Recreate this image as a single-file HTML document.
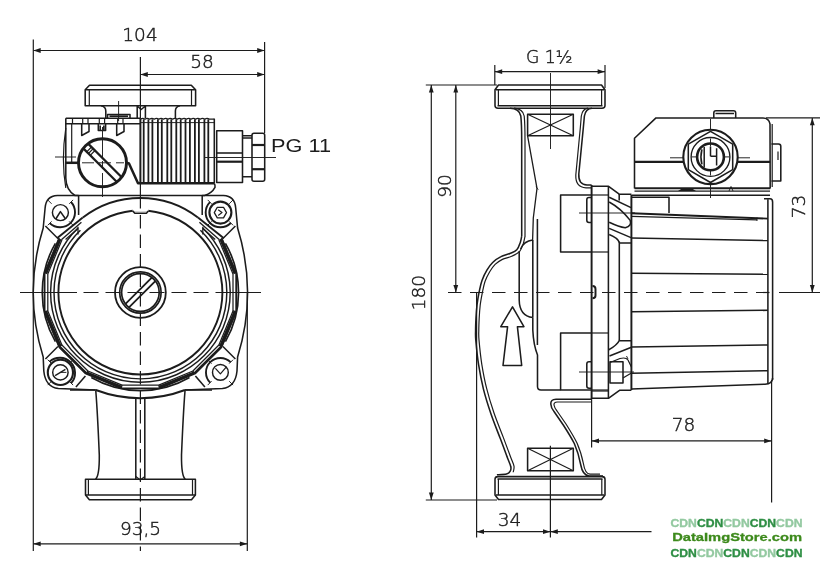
<!DOCTYPE html>
<html lang="en"><head><meta charset="utf-8"><title>Pump dimensions</title>
<style>
html,body{margin:0;padding:0;background:#fff;}
svg{display:block;will-change:transform;}
svg *{vector-effect:none;}
.draw line,.draw path,.draw circle,.draw rect,.draw polygon{fill:none;stroke:#1c1c1c;stroke-linecap:butt;stroke-linejoin:round;}
.dim{font-family:"DejaVu Sans Light","DejaVu Sans","Liberation Sans",sans-serif;font-weight:200;fill:#1c1c1c;stroke:#1c1c1c;stroke-width:0.45;}
.lib{font-family:"Liberation Sans",Arial,sans-serif;fill:#1c1c1c;stroke:none;}
.wm{font-family:"Liberation Sans",Arial,sans-serif;font-weight:700;stroke:none;}
</style></head><body>
<svg class="draw" width="840" height="571" viewBox="0 0 840 571">
<rect x="0" y="0" width="840" height="571" style="fill:#fff;stroke:none"/>
<g id="left">
<line x1="33.3" y1="39.5" x2="33.3" y2="551.0" stroke-width="1.2" />
<line x1="264.6" y1="42.0" x2="264.6" y2="133.0" stroke-width="1.2" />
<line x1="33.3" y1="50.5" x2="264.6" y2="50.5" stroke-width="1.2" />
<polygon points="33.3,50.5 40.7,48.1 40.7,52.9" style="fill:#1c1c1c;stroke:none"/>
<polygon points="264.6,50.5 257.2,52.9 257.2,48.1" style="fill:#1c1c1c;stroke:none"/>
<line x1="140.4" y1="74.5" x2="264.6" y2="74.5" stroke-width="1.2" />
<polygon points="140.4,74.5 147.8,72.1 147.8,76.9" style="fill:#1c1c1c;stroke:none"/>
<polygon points="264.6,74.5 257.2,76.9 257.2,72.1" style="fill:#1c1c1c;stroke:none"/>
<text x="140.0" y="40.8" font-size="18.5" text-anchor="middle" class="dim" >104</text>
<text x="202.0" y="68.0" font-size="18.5" text-anchor="middle" class="dim" >58</text>
<line x1="140.4" y1="57.0" x2="140.4" y2="118.0" stroke-width="1.2" />
<line x1="140.4" y1="195.5" x2="140.4" y2="551.0" stroke-width="1.2" stroke-dasharray="13.5 6"/>
<line x1="20.0" y1="292.5" x2="77.0" y2="292.5" stroke-width="1.2" />
<line x1="83.5" y1="292.5" x2="223.0" y2="292.5" stroke-width="1.2" stroke-dasharray="15 7"/>
<line x1="223.0" y1="292.5" x2="261.0" y2="292.5" stroke-width="1.2" />
<line x1="247.3" y1="292.5" x2="247.3" y2="551.0" stroke-width="1.2" />
<line x1="33.3" y1="543.8" x2="247.3" y2="543.8" stroke-width="1.2" />
<polygon points="33.3,543.8 40.7,541.4 40.7,546.2" style="fill:#1c1c1c;stroke:none"/>
<polygon points="247.3,543.8 239.9,546.2 239.9,541.4" style="fill:#1c1c1c;stroke:none"/>
<text x="140.5" y="534.7" font-size="18.5" text-anchor="middle" class="dim" >93,5</text>
<path d="M89.5,85.3 H191.3 L195.6,89.8 V105.8 H85.2 V89.8 Z" stroke-width="1.55" />
<line x1="85.2" y1="89.8" x2="195.6" y2="89.8" stroke-width="1.55" />
<line x1="89.3" y1="89.8" x2="89.3" y2="105.8" stroke-width="1.2" />
<line x1="191.5" y1="89.8" x2="191.5" y2="105.8" stroke-width="1.2" />
<path d="M101,105.8 Q105.8,106.5 105.8,111 V118" stroke-width="1.55" />
<path d="M180,105.8 Q175.4,106.5 175.4,111 V118" stroke-width="1.55" />
<path d="M137.2,118 V106 L141.2,109.5 L145.4,106 V118" stroke-width="1.55" />
<path d="M107.5,118 V114.5 H130 V118 M109.5,116.3 H128" stroke-width="1.55" />
<line x1="118.6" y1="101.0" x2="118.6" y2="121.0" stroke-width="0.95" />
<path d="M65.8,118.2 H140.4 M65.8,118.2 V178 Q66,190 75,195.5 H204.5 Q212,193 215,187.3 Q215.3,185 214.3,183.3" stroke-width="1.55" />
<line x1="65.8" y1="123.8" x2="140.4" y2="123.8" stroke-width="1.55" />
<path d="M65.8,128 Q61,160 65.8,188" stroke-width="1.2" />
<line x1="71.7" y1="123.8" x2="71.7" y2="162.0" stroke-width="1.2" />
<line x1="55.0" y1="157.0" x2="76.0" y2="157.0" stroke-width="0.95" />
<path d="M81.7,123.8 V135.5 L89.0,131.5 V123.8" stroke-width="1.55" />
<line x1="82.7" y1="118.2" x2="82.7" y2="123.8" stroke-width="1.2" />
<line x1="88.0" y1="118.2" x2="88.0" y2="123.8" stroke-width="1.2" />
<path d="M116.7,123.8 V135.5 L124.0,131.5 V123.8" stroke-width="1.55" />
<line x1="117.7" y1="118.2" x2="117.7" y2="123.8" stroke-width="1.2" />
<line x1="123.0" y1="118.2" x2="123.0" y2="123.8" stroke-width="1.2" />
<path d="M98.3,123.8 V130.5 H105.6 V123.8 M100.2,125.5 V130.5 M103.8,125.5 V130.5" stroke-width="1.55" />
<line x1="99.3" y1="118.2" x2="99.3" y2="123.8" stroke-width="1.2" />
<line x1="104.6" y1="118.2" x2="104.6" y2="123.8" stroke-width="1.2" />
<line x1="72.5" y1="118.2" x2="72.5" y2="123.8" stroke-width="1.2" />
<circle cx="102.5" cy="162.8" r="24.0" stroke-width="2.9" />
<line x1="102.5" y1="127.0" x2="102.5" y2="197.0" stroke-width="0.95" stroke-dasharray="30 4 8 4"/>
<line x1="82.0" y1="162.8" x2="124.0" y2="162.8" stroke-width="0.95" stroke-dasharray="12 5"/>
<line x1="88.1" y1="143.6" x2="121.7" y2="177.2" stroke-width="2.2" />
<line x1="83.3" y1="148.4" x2="116.9" y2="182.0" stroke-width="2.2" />
<line x1="91.5" y1="147.0" x2="86.7" y2="151.8" stroke-width="1.2" />
<line x1="93.2" y1="148.7" x2="88.4" y2="153.5" stroke-width="1.2" />
<line x1="95.0" y1="150.5" x2="90.2" y2="155.3" stroke-width="1.2" />
<line x1="65.8" y1="162.8" x2="78.5" y2="162.8" stroke-width="2.5" />
<path d="M126.5,162.8 L129,163.5 L138,183.3 H214.3" stroke-width="2.5" />
<line x1="143.7" y1="119.3" x2="143.7" y2="182.8" stroke-width="1.8" />
<line x1="148.4" y1="119.3" x2="148.4" y2="182.8" stroke-width="1.8" />
<line x1="152.4" y1="119.3" x2="152.4" y2="182.8" stroke-width="1.8" />
<line x1="157.9" y1="119.3" x2="157.9" y2="182.8" stroke-width="1.8" />
<line x1="161.8" y1="119.3" x2="161.8" y2="182.8" stroke-width="1.8" />
<line x1="167.3" y1="119.3" x2="167.3" y2="182.8" stroke-width="1.8" />
<line x1="171.3" y1="119.3" x2="171.3" y2="182.8" stroke-width="1.8" />
<line x1="176.3" y1="119.3" x2="176.3" y2="182.8" stroke-width="1.8" />
<line x1="180.7" y1="119.3" x2="180.7" y2="182.8" stroke-width="1.8" />
<line x1="185.5" y1="119.3" x2="185.5" y2="182.8" stroke-width="1.8" />
<line x1="189.9" y1="119.3" x2="189.9" y2="182.8" stroke-width="1.8" />
<line x1="194.9" y1="119.3" x2="194.9" y2="182.8" stroke-width="1.8" />
<line x1="198.9" y1="119.3" x2="198.9" y2="182.8" stroke-width="1.8" />
<line x1="204.4" y1="119.3" x2="204.4" y2="182.8" stroke-width="1.8" />
<line x1="208.3" y1="119.3" x2="208.3" y2="182.8" stroke-width="1.8" />
<line x1="140.4" y1="118.2" x2="140.4" y2="183.0" stroke-width="2.0" />
<line x1="214.3" y1="118.6" x2="214.3" y2="183.3" stroke-width="1.55" />
<path d="M140.4,119.2 q2.3,-1.8 4.6,0 q2.3,-1.8 4.6,0 q2.3,-1.8 4.6,0 q2.3,-1.8 4.6,0 q2.3,-1.8 4.6,0 q2.3,-1.8 4.6,0 q2.3,-1.8 4.6,0 q2.3,-1.8 4.6,0 q2.3,-1.8 4.6,0 q2.3,-1.8 4.6,0 q2.3,-1.8 4.6,0 q2.3,-1.8 4.6,0 q2.3,-1.8 4.6,0 q2.3,-1.8 4.6,0 q2.3,-1.8 4.6,0 L214.3,119.2" stroke-width="1.2" />
<line x1="140.4" y1="122.6" x2="214.3" y2="122.6" stroke-width="0.95" />
<line x1="140.4" y1="183.3" x2="140.4" y2="195.5" stroke-width="1.2" />
<path d="M216.7,130.8 H242.5 V182.5 H216.7 Z" stroke-width="1.55" />
<line x1="216.7" y1="153.0" x2="242.5" y2="153.0" stroke-width="1.55" />
<line x1="216.7" y1="161.7" x2="242.5" y2="161.7" stroke-width="2.2" />
<line x1="205.0" y1="157.5" x2="276.0" y2="157.5" stroke-width="0.95" />
<path d="M242.5,135.8 H252 M242.5,138 H252 M242.5,176.7 H252" stroke-width="1.55" />
<path d="M254,133.3 H262.7 Q264.7,133.3 264.7,135.3 V179.3 Q264.7,181.3 262.7,181.3 H254 Q252,181.3 252,179.3 V135.3 Q252,133.3 254,133.3 Z" stroke-width="1.55" />
<line x1="252.0" y1="145.0" x2="264.7" y2="145.0" stroke-width="2.2" />
<line x1="252.0" y1="169.2" x2="264.7" y2="169.2" stroke-width="2.2" />
<text x="271.0" y="152.0" font-size="18.4" text-anchor="start" class="lib" textLength="60" lengthAdjust="spacingAndGlyphs">PG 11</text>
<path d="M78.6,195.5 H57.4 Q45.9,196 45.1,208 L43.2,228 A218,218 0 0 0 43.2,357 L43.8,371 Q45.4,387 58.4,388.6 L95.8,390" stroke-width="1.55" />
<path d="M202.2,195.5 H223.4 Q234.9,196 235.7,208 L237.6,228 A218,218 0 0 1 237.6,357 L237.0,371 Q235.4,387 222.4,388.6 L185.0,390" stroke-width="1.55" />
<line x1="70.0" y1="390.0" x2="95.8" y2="390.0" stroke-width="1.55" />
<line x1="185.0" y1="390.0" x2="212.0" y2="390.0" stroke-width="1.55" />
<path d="M95.8,390 A126,126 0 0 0 185,390" stroke-width="1.95" />
<circle cx="140.4" cy="292.5" r="82.0" stroke-width="1.9" />
<path d="M132.6,208.5 h15.8 v3.2 h-15.8 z" style="fill:#fff;stroke:none"/>
<path d="M132.6,210.9 L134.8,213.2 H146.4 L148.4,210.9" stroke-width="1.55" />
<path d="M200.4,230.3 A86.4,86.4 0 1 1 80.4,230.3" stroke-width="1.45" />
<path d="M202.8,227.9 A89.8,89.8 0 1 1 78.0,227.9" stroke-width="1.45" />
<line x1="78.6" y1="195.5" x2="78.6" y2="215.0" stroke-width="1.55" />
<line x1="202.2" y1="195.5" x2="202.2" y2="215.0" stroke-width="1.55" />
<path d="M82.9,217.6 A94.4,94.4 0 0 1 197.9,217.6" stroke-width="1.95" />
<line x1="218.9" y1="240.0" x2="233.0" y2="274.1" stroke-width="1.25" />
<line x1="233.0" y1="274.1" x2="233.0" y2="310.9" stroke-width="1.25" />
<line x1="233.0" y1="310.9" x2="218.9" y2="345.0" stroke-width="1.25" />
<line x1="218.9" y1="345.0" x2="192.9" y2="371.0" stroke-width="1.25" />
<line x1="192.9" y1="371.0" x2="158.8" y2="385.1" stroke-width="1.25" />
<line x1="158.8" y1="385.1" x2="122.0" y2="385.1" stroke-width="1.25" />
<line x1="122.0" y1="385.1" x2="87.9" y2="371.0" stroke-width="1.25" />
<line x1="87.9" y1="371.0" x2="61.9" y2="345.0" stroke-width="1.25" />
<line x1="61.9" y1="345.0" x2="47.8" y2="310.9" stroke-width="1.25" />
<line x1="47.8" y1="310.9" x2="47.8" y2="274.1" stroke-width="1.25" />
<line x1="47.8" y1="274.1" x2="61.9" y2="240.0" stroke-width="1.25" />
<line x1="221.6" y1="238.2" x2="236.2" y2="273.4" stroke-width="1.8" />
<line x1="236.2" y1="273.4" x2="236.2" y2="311.6" stroke-width="1.8" />
<line x1="236.2" y1="311.6" x2="221.6" y2="346.8" stroke-width="1.8" />
<line x1="221.6" y1="346.8" x2="194.7" y2="373.7" stroke-width="1.8" />
<line x1="194.7" y1="373.7" x2="159.5" y2="388.3" stroke-width="1.8" />
<line x1="159.5" y1="388.3" x2="121.3" y2="388.3" stroke-width="1.8" />
<line x1="121.3" y1="388.3" x2="86.1" y2="373.7" stroke-width="1.8" />
<line x1="86.1" y1="373.7" x2="59.2" y2="346.8" stroke-width="1.8" />
<line x1="59.2" y1="346.8" x2="44.6" y2="311.6" stroke-width="1.8" />
<line x1="44.6" y1="311.6" x2="44.6" y2="273.4" stroke-width="1.8" />
<line x1="44.6" y1="273.4" x2="59.2" y2="238.2" stroke-width="1.8" />
<line x1="220.8" y1="238.8" x2="235.2" y2="273.6" stroke-width="3.3" />
<line x1="235.2" y1="311.4" x2="220.8" y2="346.2" stroke-width="3.3" />
<line x1="60.0" y1="346.2" x2="45.6" y2="311.4" stroke-width="3.3" />
<line x1="45.6" y1="273.6" x2="60.0" y2="238.8" stroke-width="3.3" />
<line x1="194.0" y1="372.7" x2="159.2" y2="387.1" stroke-width="2.7" />
<line x1="121.6" y1="387.1" x2="86.8" y2="372.7" stroke-width="2.7" />
<line x1="221.4" y1="346.6" x2="194.5" y2="373.5" stroke-width="2.5" />
<line x1="86.3" y1="373.5" x2="59.4" y2="346.6" stroke-width="2.5" />
<line x1="232.8" y1="310.9" x2="236.0" y2="311.5" stroke-width="1.2" />
<line x1="218.7" y1="344.8" x2="221.4" y2="346.7" stroke-width="1.2" />
<line x1="192.7" y1="370.8" x2="194.6" y2="373.5" stroke-width="1.2" />
<line x1="158.8" y1="384.9" x2="159.4" y2="388.1" stroke-width="1.2" />
<line x1="122.0" y1="384.9" x2="121.4" y2="388.1" stroke-width="1.2" />
<line x1="88.1" y1="370.8" x2="86.2" y2="373.5" stroke-width="1.2" />
<line x1="62.1" y1="344.8" x2="59.4" y2="346.7" stroke-width="1.2" />
<line x1="48.0" y1="310.9" x2="44.8" y2="311.5" stroke-width="1.2" />
<line x1="57.0" y1="238.3" x2="82.8" y2="217.5" stroke-width="1.9" />
<line x1="61.4" y1="239.8" x2="81.4" y2="222.2" stroke-width="1.3" />
<line x1="65.6" y1="239.4" x2="78.0" y2="228.4" stroke-width="1.3" />
<line x1="78.0" y1="226.7" x2="78.0" y2="234.5" stroke-width="1.3" />
<line x1="223.8" y1="238.3" x2="198.0" y2="217.5" stroke-width="1.9" />
<line x1="219.4" y1="239.8" x2="199.4" y2="222.2" stroke-width="1.3" />
<line x1="215.2" y1="239.4" x2="202.8" y2="228.4" stroke-width="1.3" />
<line x1="202.8" y1="226.7" x2="202.8" y2="234.5" stroke-width="1.3" />
<path d="M225.4,243.4 A98.2,98.2 0 0 1 225.4,341.6" stroke-width="1.7" />
<path d="M189.5,377.5 A98.2,98.2 0 0 1 91.3,377.5" stroke-width="1.7" />
<path d="M55.4,341.6 A98.2,98.2 0 0 1 55.4,243.4" stroke-width="1.7" />
<line x1="57.9" y1="238.5" x2="45.4" y2="226.0" stroke-width="1.55" />
<path d="M71.0,202.0 A15,15 0 0 1 49.8,223.2" stroke-width="1.9" />
<circle cx="60.4" cy="212.6" r="8.0" stroke-width="1.45" />
<line x1="69.2" y1="221.4" x2="73.1" y2="225.3" stroke-width="0.95" />
<line x1="51.6" y1="221.4" x2="47.7" y2="225.3" stroke-width="0.95" />
<line x1="51.6" y1="203.8" x2="47.7" y2="199.9" stroke-width="0.95" />
<line x1="69.2" y1="203.8" x2="73.1" y2="199.9" stroke-width="0.95" />
<path d="M55.8,219.0 L60.4,211.6 L65.6,219.0" stroke-width="1.55" />
<line x1="222.9" y1="238.5" x2="235.4" y2="226.0" stroke-width="1.55" />
<path d="M210.0,202.2 A14.7,14.7 0 0 0 230.8,223.0" stroke-width="1.9" />
<circle cx="220.4" cy="212.6" r="11.0" stroke-width="2.1" />
<line x1="229.2" y1="221.4" x2="233.1" y2="225.3" stroke-width="0.95" />
<line x1="211.6" y1="221.4" x2="207.7" y2="225.3" stroke-width="0.95" />
<line x1="211.6" y1="203.8" x2="207.7" y2="199.9" stroke-width="0.95" />
<line x1="229.2" y1="203.8" x2="233.1" y2="199.9" stroke-width="0.95" />
<polygon points="226.5,212.6 223.5,217.9 217.3,217.9 214.3,212.6 217.3,207.3 223.5,207.3" stroke-width="1.3"/>
<path d="M218.2,209.8 L222.0,212.6 L218.2,215.4" stroke-width="1.2" />
<line x1="57.9" y1="346.5" x2="45.4" y2="359.0" stroke-width="1.55" />
<line x1="85.4" y1="376.0" x2="75.9" y2="387.1" stroke-width="1.55" />
<path d="M71.2,383.2 A15.3,15.3 0 0 0 49.6,361.6" stroke-width="1.9" />
<circle cx="60.4" cy="372.4" r="12.6" stroke-width="2.1" />
<circle cx="60.4" cy="372.4" r="7.7" stroke-width="1.45" />
<line x1="69.2" y1="381.2" x2="73.1" y2="385.1" stroke-width="0.95" />
<line x1="51.6" y1="381.2" x2="47.7" y2="385.1" stroke-width="0.95" />
<line x1="51.6" y1="363.6" x2="47.7" y2="359.7" stroke-width="0.95" />
<line x1="69.2" y1="363.6" x2="73.1" y2="359.7" stroke-width="0.95" />
<line x1="55.1" y1="375.6" x2="65.4" y2="369.4" stroke-width="1.3" />
<line x1="60.4" y1="372.4" x2="66.4" y2="372.4" stroke-width="0.95" />
<line x1="222.9" y1="346.5" x2="235.4" y2="359.0" stroke-width="1.55" />
<line x1="195.4" y1="376.0" x2="204.9" y2="387.1" stroke-width="1.55" />
<path d="M210.2,382.6 A14.4,14.4 0 0 1 230.6,362.2" stroke-width="1.9" />
<circle cx="220.4" cy="372.4" r="7.9" stroke-width="1.45" />
<line x1="229.2" y1="381.2" x2="233.1" y2="385.1" stroke-width="0.95" />
<line x1="211.6" y1="381.2" x2="207.7" y2="385.1" stroke-width="0.95" />
<line x1="211.6" y1="363.6" x2="207.7" y2="359.7" stroke-width="0.95" />
<line x1="229.2" y1="363.6" x2="233.1" y2="359.7" stroke-width="0.95" />
<path d="M215.4,368.4 L220.4,373.9 L226.4,366.9" stroke-width="1.2" />
<circle cx="140.4" cy="292.5" r="25.4" stroke-width="1.8" />
<circle cx="140.4" cy="292.5" r="20.7" stroke-width="1.7" />
<circle cx="140.4" cy="292.5" r="18.8" stroke-width="1.7" />
<line x1="125.5" y1="303.9" x2="151.8" y2="277.6" stroke-width="1.8" />
<line x1="129.0" y1="307.4" x2="155.3" y2="281.1" stroke-width="1.8" />
<path d="M95.8,391 Q97.5,412 99.3,455 Q99.5,476 95.5,479.2" stroke-width="1.55" />
<path d="M185,391 Q183.3,412 181.5,455 Q181.3,476 185.3,479.2" stroke-width="1.55" />
<line x1="135.8" y1="399.0" x2="135.8" y2="479.0" stroke-width="1.55" />
<line x1="144.8" y1="399.0" x2="144.8" y2="479.0" stroke-width="1.55" />
<path d="M135.8,476.5 L140.3,480 L144.8,476.5" stroke-width="1.2" />
<path d="M85.5,479.2 H195.4 V495 L191.5,499.7 H89.4 L85.5,495 Z" stroke-width="1.55" />
<line x1="85.5" y1="495.0" x2="195.4" y2="495.0" stroke-width="1.55" />
<line x1="88.4" y1="480.0" x2="88.4" y2="495.0" stroke-width="1.2" />
<line x1="192.5" y1="480.0" x2="192.5" y2="495.0" stroke-width="1.2" />
</g>
<g id="right">
<line x1="425.8" y1="85.0" x2="497.0" y2="85.0" stroke-width="1.2" />
<line x1="425.8" y1="500.0" x2="497.0" y2="500.0" stroke-width="1.2" />
<line x1="431.3" y1="85.0" x2="431.3" y2="500.0" stroke-width="1.2" />
<polygon points="431.3,85.0 433.7,92.4 428.9,92.4" style="fill:#1c1c1c;stroke:none"/>
<polygon points="431.3,500.0 428.9,492.6 433.7,492.6" style="fill:#1c1c1c;stroke:none"/>
<line x1="455.8" y1="85.0" x2="455.8" y2="292.5" stroke-width="1.2" />
<polygon points="455.8,85.0 458.2,92.4 453.4,92.4" style="fill:#1c1c1c;stroke:none"/>
<polygon points="455.8,292.5 453.4,285.1 458.2,285.1" style="fill:#1c1c1c;stroke:none"/>
<text x="425.2" y="292.7" font-size="18.5" text-anchor="middle" class="dim" transform="rotate(-90 425.2 292.7)">180</text>
<text x="450.5" y="186.0" font-size="18.5" text-anchor="middle" class="dim" transform="rotate(-90 450.5 186)">90</text>
<line x1="494.8" y1="65.0" x2="494.8" y2="85.0" stroke-width="1.2" />
<line x1="605.0" y1="65.0" x2="605.0" y2="88.0" stroke-width="1.2" />
<line x1="494.8" y1="71.7" x2="605.0" y2="71.7" stroke-width="1.2" />
<polygon points="494.8,71.7 502.2,69.3 502.2,74.1" style="fill:#1c1c1c;stroke:none"/>
<polygon points="605.0,71.7 597.6,74.1 597.6,69.3" style="fill:#1c1c1c;stroke:none"/>
<text x="526.0" y="63.3" font-size="18.5" text-anchor="start" class="dim" textLength="46.6" lengthAdjust="spacingAndGlyphs">G 1½</text>
<line x1="550.5" y1="73.0" x2="550.5" y2="149.0" stroke-width="0.95" />
<line x1="448.0" y1="292.5" x2="775.0" y2="292.5" stroke-width="1.2" stroke-dasharray="13.5 8.5"/>
<line x1="779.0" y1="292.5" x2="820.0" y2="292.5" stroke-width="1.2" />
<line x1="766.0" y1="117.9" x2="820.0" y2="117.9" stroke-width="1.2" />
<line x1="812.3" y1="117.9" x2="812.3" y2="292.5" stroke-width="1.2" />
<polygon points="812.3,117.9 814.7,125.3 809.9,125.3" style="fill:#1c1c1c;stroke:none"/>
<polygon points="812.3,292.5 809.9,285.1 814.7,285.1" style="fill:#1c1c1c;stroke:none"/>
<text x="805.3" y="206.5" font-size="18.5" text-anchor="middle" class="dim" transform="rotate(-90 805.3 206.5)">73</text>
<line x1="591.6" y1="399.0" x2="591.6" y2="447.5" stroke-width="1.2" />
<line x1="771.6" y1="380.0" x2="771.6" y2="502.5" stroke-width="1.2" />
<line x1="591.6" y1="440.9" x2="771.6" y2="440.9" stroke-width="1.2" />
<polygon points="591.6,440.9 599.0,438.5 599.0,443.3" style="fill:#1c1c1c;stroke:none"/>
<polygon points="771.6,440.9 764.2,443.3 764.2,438.5" style="fill:#1c1c1c;stroke:none"/>
<text x="683.5" y="431.4" font-size="18.5" text-anchor="middle" class="dim" >78</text>
<line x1="476.6" y1="292.5" x2="476.6" y2="537.5" stroke-width="1.2" />
<line x1="550.4" y1="445.8" x2="550.4" y2="537.5" stroke-width="1.2" />
<line x1="476.6" y1="531.7" x2="550.4" y2="531.7" stroke-width="1.2" />
<polygon points="476.6,531.7 484.0,529.3 484.0,534.1" style="fill:#1c1c1c;stroke:none"/>
<polygon points="550.4,531.7 543.0,534.1 543.0,529.3" style="fill:#1c1c1c;stroke:none"/>
<line x1="550.4" y1="531.7" x2="651.5" y2="531.7" stroke-width="1.2" />
<polygon points="550.4,531.7 557.8,529.3 557.8,534.1" style="fill:#1c1c1c;stroke:none"/>
<text x="509.5" y="525.8" font-size="18.5" text-anchor="middle" class="dim" >34</text>
<path d="M498.5,85 H601.5 L605,89.7 V105.5 Q605,108.2 602,108.2 H498 Q495,108.2 495,105.5 V89.7 Z" stroke-width="1.55" />
<line x1="496.0" y1="89.7" x2="604.0" y2="89.7" stroke-width="1.55" />
<line x1="497.5" y1="105.8" x2="602.5" y2="105.8" stroke-width="1.55" />
<line x1="498.4" y1="90.0" x2="498.4" y2="105.0" stroke-width="1.2" />
<line x1="601.6" y1="90.0" x2="601.6" y2="105.0" stroke-width="1.2" />
<rect x="527.6" y="114.2" width="45.7" height="21.6" stroke-width="1.55" />
<line x1="527.6" y1="114.2" x2="573.3" y2="135.8" stroke-width="1.2" />
<line x1="527.6" y1="135.8" x2="573.3" y2="114.2" stroke-width="1.2" />
<rect x="527.6" y="448.3" width="45.7" height="22.5" stroke-width="1.55" />
<line x1="527.6" y1="448.3" x2="573.3" y2="470.8" stroke-width="1.2" />
<line x1="527.6" y1="470.8" x2="573.3" y2="448.3" stroke-width="1.2" />
<path d="M510,108.2 Q519.5,108.6 520.8,116 Q521.7,124 521.7,140 V236" stroke-width="1.55" />
<path d="M514,108.2 Q523,109 524.2,116 Q525,124 525,140 V237" stroke-width="1.2" />
<path d="M521.7,236.1 C521.5,237.2 521.1,240.2 520.3,242.4 C519.5,244.7 518.6,247.9 516.8,249.7 C515.1,251.6 512.5,252.4 509.9,253.5 C507.2,254.7 503.8,255.1 501.0,256.6 C498.2,258.0 495.2,259.9 492.9,262.2 C490.5,264.4 488.7,267.1 486.9,270.2 C485.1,273.2 483.3,276.9 482.0,280.5 C480.7,284.0 480.1,287.6 479.2,291.7 C478.4,295.7 477.6,300.4 477.0,304.8 C476.5,309.2 476.2,313.7 476.0,317.9 C475.8,322.1 475.6,326.3 475.6,330.0 C475.6,333.7 475.3,334.3 475.8,340.1 C476.3,345.9 477.3,356.5 478.6,364.7 C479.9,373.0 481.5,381.2 483.5,389.4 C485.6,397.6 488.2,405.8 491.0,414.0 C493.8,422.2 497.5,431.2 500.3,438.6 C503.1,445.9 505.8,453.5 507.6,458.2 C509.4,462.9 510.4,464.6 510.8,466.8 C511.3,468.9 510.9,470.0 510.2,471.2 C509.5,472.4 508.8,473.5 506.5,474.1 C504.3,474.7 498.5,474.7 496.9,474.8 " stroke-width="1.55" />
<path d="M524.9,236.9 C524.6,238.0 524.2,241.0 523.3,243.6 C522.4,246.1 521.2,249.7 519.2,251.9 C517.1,254.0 513.9,255.2 511.1,256.5 C508.4,257.7 505.1,258.1 502.4,259.4 C499.7,260.8 497.2,262.4 495.1,264.4 C493.0,266.5 491.4,269.0 489.7,271.8 C488.0,274.7 486.2,278.1 485.0,281.5 C483.8,285.0 483.2,288.4 482.4,292.3 C481.6,296.3 480.7,300.9 480.2,305.2 C479.7,309.5 479.4,314.0 479.2,318.1 C479.0,322.2 478.8,326.4 478.8,330.0 C478.8,333.6 478.5,334.2 479.0,339.9 C479.5,345.6 480.5,356.1 481.8,364.3 C483.1,372.4 484.6,380.5 486.7,388.6 C488.7,396.7 491.2,404.8 494.0,413.0 C496.8,421.1 500.5,430.1 503.3,437.4 C506.1,444.8 508.8,452.2 510.6,457.0 C512.4,461.8 513.5,463.7 514.0,466.2 C514.4,468.8 513.3,471.2 513.2,472.2 " stroke-width="1.2" />
<path d="M527.6,135.8 L537,188.3 L533.3,218 L532.6,240 Q524,241 520.5,249" stroke-width="1.3" />
<line x1="536.0" y1="186.8" x2="538.2" y2="189.6" stroke-width="0.95" />
<path d="M537.4,219 V345" stroke-width="1.55" />
<path d="M532.8,240 V317.5 M519.2,251 V300 Q519.5,316 532.8,317.5" stroke-width="1.55" />
<path d="M532.8,317.5 V330 Q533.5,345 537.5,355 V386.5 Q537.5,390 541,390 H560.6" stroke-width="1.55" />
<path d="M592,108.2 Q585.6,108.6 584.4,116 L583.3,128 L578.8,174 Q578.3,184.8 587,185 H591.6" stroke-width="1.55" />
<path d="M588,108.2 Q582.4,109 581.3,116 L580.3,128 L575.8,175 Q575.4,187.5 586,187.8 H591.6" stroke-width="1.2" />
<path d="M512.5,306.8 L523.9,326.7 H517.4 L521.7,365.5 H503 L507.6,326.7 H500.8 Z" stroke-width="1.55" />
<path d="M591.6,195 H560.6 V252 H591.6" stroke-width="1.55" />
<path d="M591.6,333 H560.6 V390 H591.6" stroke-width="1.55" />
<line x1="591.6" y1="195.0" x2="608.4" y2="195.0" stroke-width="1.2" />
<line x1="591.6" y1="252.0" x2="608.4" y2="252.0" stroke-width="1.2" />
<line x1="591.6" y1="333.0" x2="608.4" y2="333.0" stroke-width="1.2" />
<line x1="591.6" y1="390.0" x2="608.4" y2="390.0" stroke-width="1.2" />
<line x1="591.6" y1="185.0" x2="591.6" y2="399.0" stroke-width="1.95" />
<line x1="608.4" y1="186.7" x2="608.4" y2="398.3" stroke-width="1.55" />
<line x1="631.4" y1="195.0" x2="631.4" y2="390.0" stroke-width="1.95" />
<path d="M591.6,186.3 H608.6 L619.2,194.2 H631.4" stroke-width="1.55" />
<path d="M591.6,398.3 H608.4 L619.5,390.3 H631.4" stroke-width="1.55" />
<line x1="591.6" y1="391.0" x2="608.4" y2="391.0" stroke-width="1.2" />
<path d="M591.6,197.5 H589 Q586.8,197.5 586.8,199.7 V220.3 Q586.8,222.5 589,222.5 H591.6" stroke-width="1.55" />
<path d="M591.6,361.7 H589 Q586.8,361.7 586.8,363.9 V386 Q586.8,388.2 589,388.2 H591.6" stroke-width="1.55" />
<line x1="579.0" y1="213.0" x2="635.0" y2="213.0" stroke-width="0.95" />
<line x1="579.0" y1="372.0" x2="634.0" y2="372.0" stroke-width="0.95" />
<path d="M592.5,286 Q595.5,286 595.5,289 V295.5 Q595.5,298.3 592.5,298.3" stroke-width="1.95" />
<line x1="619.2" y1="194.0" x2="619.2" y2="200.4" stroke-width="1.55" />
<line x1="619.3" y1="241.5" x2="619.3" y2="340.0" stroke-width="1.55" />
<path d="M609.2,197.2 L631,207.6" stroke-width="1.55" />
<path d="M609.2,202 Q621,208.5 630.2,220.4 Q632,225.8 625.3,227.8 Q619,227 609.2,222.3" stroke-width="1.55" />
<path d="M609.2,228.4 L631,237.6" stroke-width="1.55" />
<path d="M609.2,234.5 Q618,238 619.3,242.6 M619.3,243 H631.4" stroke-width="1.55" />
<path d="M619.5,340.8 H631.4 M619.5,340 Q617.5,345 608.4,350" stroke-width="1.55" />
<path d="M609.5,356 L631.4,347.3" stroke-width="1.55" />
<path d="M610,362.5 L620,358.5 Q626,357 628,360 L631.4,367" stroke-width="1.2" />
<rect x="610.0" y="361.8" width="13.0" height="21.2" stroke-width="1.55" />
<path d="M623,378 L631.4,373" stroke-width="1.2" />
<line x1="626.5" y1="356.0" x2="628.0" y2="359.0" stroke-width="0.95" />
<path d="M631.4,197.2 H669 V213" stroke-width="1.55" />
<path d="M631.4,213.2 L767.9,218.6" stroke-width="1.95" />
<path d="M631.4,216.4 L757,219.8" stroke-width="1.2" />
<line x1="757.0" y1="217.5" x2="757.0" y2="221.0" stroke-width="0.95" />
<line x1="631.4" y1="238.0" x2="767.9" y2="240.6" stroke-width="1.55" />
<line x1="631.4" y1="273.2" x2="767.9" y2="274.3" stroke-width="1.55" />
<line x1="631.4" y1="311.8" x2="767.9" y2="310.3" stroke-width="1.55" />
<line x1="631.4" y1="347.0" x2="767.9" y2="345.0" stroke-width="1.55" />
<line x1="631.4" y1="373.3" x2="767.9" y2="370.7" stroke-width="1.55" />
<path d="M631.4,389 L765,384.2 Q772.4,384 772.6,378" stroke-width="1.55" />
<path d="M767.9,199.3 V384" stroke-width="1.55" />
<path d="M764,198.8 H770 Q772.6,198.8 772.6,202 V380" stroke-width="1.55" />
<path d="M634.5,188.4 V138.2 L656,117.9 H763 Q769,118 770,124 L770.2,188.4" stroke-width="1.55" />
<line x1="634.5" y1="188.2" x2="770.2" y2="188.2" stroke-width="2.1" />
<line x1="634.5" y1="191.2" x2="770.0" y2="191.2" stroke-width="1.2" />
<line x1="631.4" y1="195.2" x2="770.0" y2="195.2" stroke-width="1.55" />
<line x1="634.5" y1="161.9" x2="684.0" y2="161.9" stroke-width="2.1" />
<line x1="737.5" y1="161.9" x2="770.2" y2="161.9" stroke-width="2.1" />
<path d="M713.8,117.9 V113 Q713.8,110.8 716,110.8 H733.5 Q735.7,110.8 735.7,113 V117.9 M715.5,113.5 H734" stroke-width="1.55" />
<path d="M678,191 L682,188.6 H692 L696,191 Z" style="fill:#1c1c1c;stroke:none"/>
<path d="M729,191 L731,186.5 L733,191" stroke-width="0.95" />
<path d="M771.5,144 H778.5 Q780.8,144 780.8,146.3 V181 H771.5" stroke-width="1.55" />
<line x1="778.0" y1="151.5" x2="778.0" y2="160.0" stroke-width="1.2" />
<line x1="772.2" y1="124.0" x2="772.2" y2="187.0" stroke-width="1.2" />
<circle cx="710.5" cy="156.9" r="27.2" stroke-width="2.1" />
<polygon points="732.7,169.7 710.5,182.5 688.3,169.7 688.3,144.1 710.5,131.3 732.7,144.1" stroke-width="1.55"/>
<circle cx="710.5" cy="156.9" r="19.4" stroke-width="1.35" />
<circle cx="710.5" cy="156.9" r="13.4" stroke-width="2.6" />
<path d="M704.2,146.9 V167.4 M716.6,148.3 V165.5 M710.5,156.3 H716.6 M710.5,146.4 V156.3" stroke-width="1.5" />
<path d="M701.9,149.4 Q700.0,156.9 701.9,164.4" stroke-width="1.6" />
<line x1="670.0" y1="157.8" x2="683.3" y2="157.8" stroke-width="0.95" />
<line x1="737.7" y1="157.8" x2="750.0" y2="157.8" stroke-width="0.95" />
<line x1="710.5" y1="119.0" x2="710.5" y2="130.0" stroke-width="0.95" />
<line x1="710.5" y1="183.5" x2="710.5" y2="198.0" stroke-width="0.95" />
<line x1="710.5" y1="138.5" x2="710.5" y2="146.5" stroke-width="0.95" />
<line x1="710.5" y1="170.0" x2="710.5" y2="175.5" stroke-width="0.95" />
<line x1="691.5" y1="156.9" x2="696.0" y2="156.9" stroke-width="0.95" />
<line x1="725.0" y1="156.9" x2="729.5" y2="156.9" stroke-width="0.95" />
<path d="M591.6,399.2 H556 Q550.5,399.5 550.8,404 Q551,408 554,411.5 L563.3,425 Q571,437 574.3,443.5 Q578.5,453 580.8,465 Q582.5,475 589,476 H603" stroke-width="1.55" />
<path d="M591.6,402 H557.5 Q553.5,402.3 554,405 Q554.5,408 557,411 L566,424 Q573.5,436 577,443 Q581,452 583.5,464 Q585,473.6 590,474.2 H600" stroke-width="1.2" />
<path d="M498,476.6 H602 Q605,476.6 605,479.3 V495 L601.5,499.5 H498.5 L495,495 V479.3 Q495,476.6 498,476.6 Z" stroke-width="1.55" />
<line x1="496.0" y1="495.0" x2="604.0" y2="495.0" stroke-width="1.55" />
<line x1="497.5" y1="479.0" x2="602.5" y2="479.0" stroke-width="1.55" />
<line x1="498.4" y1="479.0" x2="498.4" y2="495.0" stroke-width="1.2" />
<line x1="601.8" y1="479.0" x2="601.8" y2="495.0" stroke-width="1.2" />
</g>
<text x="670.5" y="526.9" font-size="10.8" class="wm" textLength="132" lengthAdjust="spacingAndGlyphs"><tspan style="fill:#93c9a0;stroke:#93c9a0;stroke-width:0.35">CDN</tspan><tspan style="fill:#2f8f45;stroke:#2f8f45;stroke-width:0.35">CDN</tspan><tspan style="fill:#93c9a0;stroke:#93c9a0;stroke-width:0.35">CDN</tspan><tspan style="fill:#2f8f45;stroke:#2f8f45;stroke-width:0.35">CDN</tspan><tspan style="fill:#93c9a0;stroke:#93c9a0;stroke-width:0.35">CDN</tspan></text>
<text x="672.2" y="541.3" font-size="11.6" class="wm" style="fill:#3d8a1c;stroke:#3d8a1c;stroke-width:0.3" textLength="129.8" lengthAdjust="spacingAndGlyphs">DataImgStore.com</text>
<text x="670.5" y="556.6" font-size="10.8" class="wm" textLength="132" lengthAdjust="spacingAndGlyphs"><tspan style="fill:#2f8f45;stroke:#2f8f45;stroke-width:0.35">CDN</tspan><tspan style="fill:#93c9a0;stroke:#93c9a0;stroke-width:0.35">CDN</tspan><tspan style="fill:#2f8f45;stroke:#2f8f45;stroke-width:0.35">CDN</tspan><tspan style="fill:#93c9a0;stroke:#93c9a0;stroke-width:0.35">CDN</tspan><tspan style="fill:#2f8f45;stroke:#2f8f45;stroke-width:0.35">CDN</tspan></text>
</svg>
</body></html>
